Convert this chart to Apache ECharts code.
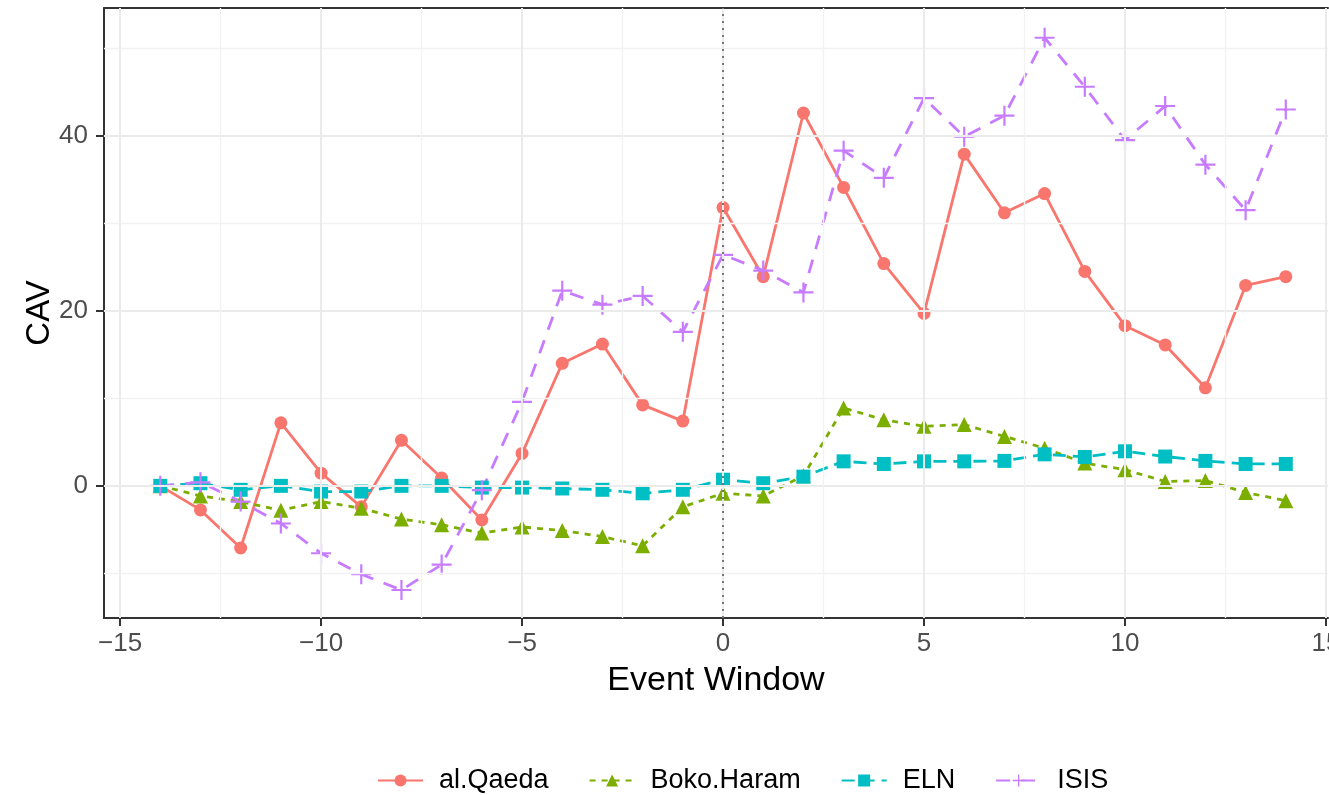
<!DOCTYPE html>
<html>
<head>
<meta charset="utf-8">
<script src="https://cdn.jsdelivr.net/npm/echarts@6/dist/echarts.min.js"></script>
<style>
html,body{margin:0;padding:0;background:#fff;}
#chart{width:1329px;height:795px;}
</style>
</head>
<body>
<div id="chart"></div>
<script>
const eventWindow = [-14,-13,-12,-11,-10,-9,-8,-7,-6,-5,-4,-3,-2,-1,0,1,2,3,4,5,6,7,8,9,10,11,12,13,14];
const alQaeda   = [0,-2.75,-7.1,7.2,1.45,-2.4,5.2,0.9,-3.9,3.7,14.0,16.2,9.25,7.4,31.8,23.9,42.6,34.1,25.4,19.7,37.9,31.2,33.4,24.5,18.3,16.1,11.2,22.9,23.9];
const bokoHaram = [0,-1.15,-1.8,-2.8,-1.8,-2.55,-3.8,-4.45,-5.4,-4.7,-5.1,-5.8,-6.85,-2.4,-0.85,-1.15,1.15,8.9,7.55,6.8,7.0,5.65,4.3,2.6,1.85,0.5,0.6,-0.75,-1.7];
const eln       = [0,0.3,-0.45,0,-0.65,-0.65,0,0,-0.2,-0.2,-0.3,-0.45,-0.85,-0.45,0.7,0.3,1.05,2.8,2.5,2.8,2.8,2.85,3.6,3.3,3.95,3.35,2.85,2.5,2.5];
const isis      = [0,0.4,-1.8,-4.3,-7.7,-10.1,-11.9,-9.0,-0.5,9.6,22.3,20.7,21.7,17.6,26.4,24.6,22.1,38.3,35.2,44.3,39.9,42.3,51.2,45.6,39.5,43.4,36.7,31.5,43.0];
const seriesNames = ['al.Qaeda','Boko.Haram','ELN','ISIS'];
const xTicks = [-15,-10,-5,0,5,10,15];
const xMinor = [-12.5,-7.5,-2.5,2.5,7.5,12.5];
const yTicks = [0,20,40];
const yMinor = [-10,10,30,50];

const colors = ['#F8766D','#7CAE00','#00BFC4','#C77CFF'];
const FONT = '"Liberation Sans", Arial, Helvetica, sans-serif';
const fmt = v => v < 0 ? '\u2212' + Math.abs(v) : String(v);
const zip = ys => eventWindow.map((x, i) => [x, ys[i]]);
const plusPath = 'path://M4.45,0H5.55V4.45H10V5.55H5.55V10H4.45V5.55H0V4.45H4.45Z';

const gridLines = [];
yTicks.forEach(v => gridLines.push({yAxis: v, lineStyle: {color: '#EBEBEB', width: 2, type: 'solid'}}));
yMinor.forEach(v => gridLines.push({yAxis: v, lineStyle: {color: '#F2F2F2', width: 1.4, type: 'solid'}}));
xTicks.forEach(v => gridLines.push({xAxis: v, lineStyle: {color: '#EBEBEB', width: 2, type: 'solid'}}));
xMinor.forEach(v => gridLines.push({xAxis: v, lineStyle: {color: '#F2F2F2', width: 1.4, type: 'solid'}}));

function mk(name, data, color, symbol, size, dash) {
  return {
    name: name, type: 'line', data: zip(data),
    symbol: symbol, symbolSize: size,
    showSymbol: true,
    lineStyle: {color: color, width: 2.8, type: dash},
    itemStyle: {color: color},
    emphasis: {disabled: true},
    animation: false,
    z: 3
  };
}

const chart = echarts.init(document.getElementById('chart'));
chart.setOption({
  backgroundColor: '#fff',
  animation: false,
  color: colors,
  grid: {left: 104, right: 1, top: 8, bottom: 177, show: false, containLabel: false, outerBoundsMode: 'none'},
  xAxis: [{
    type: 'value', min: -15.4, max: 15.05,
    name: 'Event Window', nameLocation: 'middle', nameGap: 46, nameMoveOverlap: false,
    nameTextStyle: {fontFamily: FONT, fontSize: 34, color: '#000'},
    axisLine: {show: true, onZero: false, lineStyle: {color: '#333', width: 2}},
    axisTick: {show: true, length: 8, lineStyle: {color: '#333', width: 2}, customValues: xTicks},
    axisLabel: {customValues: xTicks, formatter: fmt, fontFamily: FONT, fontSize: 26, color: '#4D4D4D', margin: 13},
    splitLine: {show: false}
  }, {
    type: 'value', position: 'top', min: -15.4, max: 15.05,
    axisLine: {show: true, onZero: false, lineStyle: {color: '#333', width: 2}},
    axisTick: {show: false}, axisLabel: {show: false}, splitLine: {show: false}
  }],
  yAxis: {
    type: 'value', min: -15.1, max: 54.6,
    name: 'CAV', nameLocation: 'middle', nameGap: 48, nameRotate: 90, nameMoveOverlap: false,
    nameTextStyle: {fontFamily: FONT, fontSize: 33, color: '#000'},
    axisLine: {show: true, onZero: false, lineStyle: {color: '#333', width: 2}},
    axisTick: {show: true, length: 8, lineStyle: {color: '#333', width: 2}, customValues: yTicks},
    axisLabel: {customValues: yTicks, formatter: fmt, fontFamily: FONT, fontSize: 26, color: '#4D4D4D', margin: 16},
    splitLine: {show: false}
  },
  legend: {
    data: seriesNames,
    left: 372, top: 762,
    itemWidth: 45, itemHeight: 15, itemGap: 40,
    textStyle: {fontFamily: FONT, fontSize: 27, color: '#000', padding: [0, 0, 0, 11]},
    selectedMode: false
  },
  series: [
    {
      name: 'grid', type: 'line', data: [], silent: true, z: 1,
      markLine: {silent: true, symbol: 'none', label: {show: false}, animation: false, data: gridLines.concat([
        {xAxis: 0, lineStyle: {color: '#777', width: 2, type: [2, 5]}}
      ])}
    },
    mk(seriesNames[0], alQaeda, colors[0], 'circle', 13, 'solid'),
    mk(seriesNames[1], bokoHaram, colors[1], 'triangle', 15, [6, 6]),
    mk(seriesNames[2], eln, colors[2], 'rect', 14, [13, 7]),
    mk(seriesNames[3], isis, colors[3], plusPath, 20, [14, 11])
  ]
});
</script>
</body>
</html>
